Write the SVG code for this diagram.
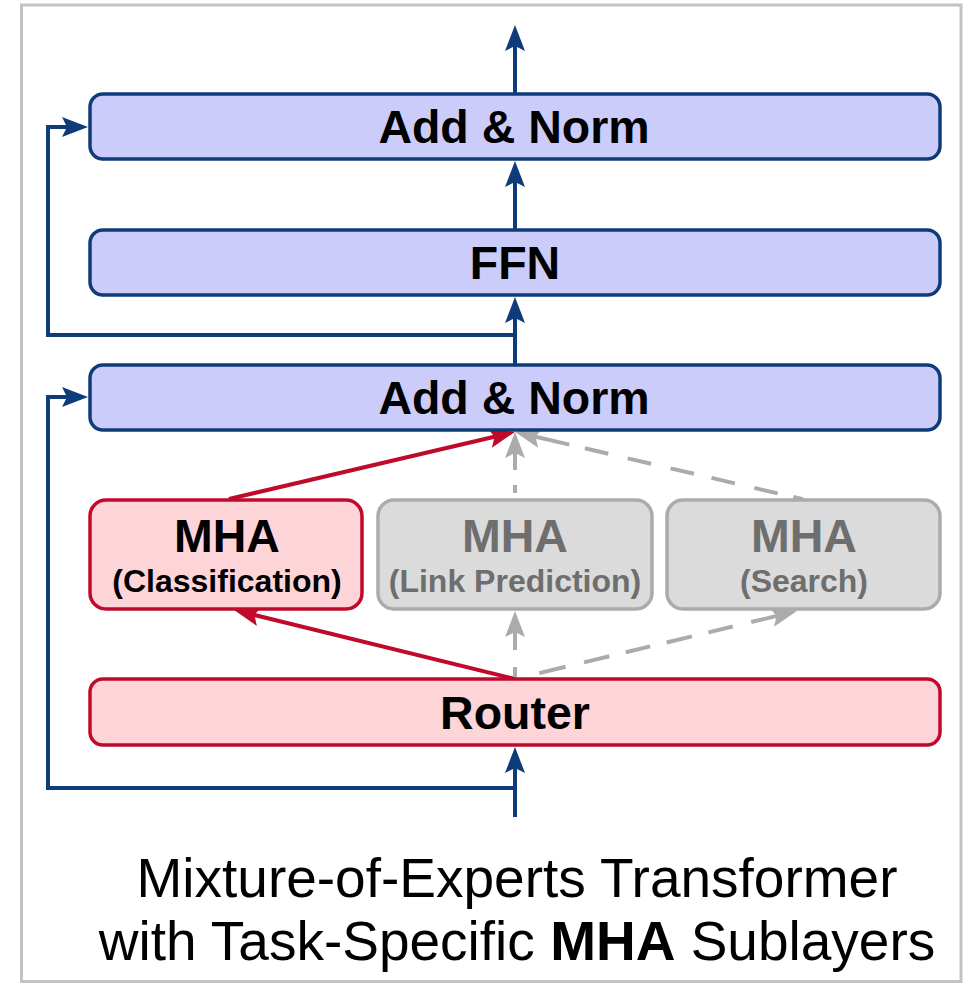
<svg xmlns="http://www.w3.org/2000/svg" width="969" height="986" viewBox="0 0 969 986">
  <style>
    .frame { fill: #ffffff; stroke: #c2c2c2; stroke-width: 3; }
    .box-blue { fill: #ccccfb; stroke: #0e3c7a; stroke-width: 3.5; }
    .box-red { fill: #fdd5d8; stroke: #c00a2b; stroke-width: 3.5; }
    .box-gray { fill: #dbdbdb; stroke: #ababab; stroke-width: 3.5; }
    .label { font-family: "Liberation Sans", Arial, Helvetica, sans-serif; font-weight: bold; text-anchor: middle; fill: #000000; }
    .big { font-size: 46.5px; }
    .sub { font-size: 32px; }
    .muted { fill: #6e6e6e; }
    .caption { font-family: "Liberation Sans", Arial, Helvetica, sans-serif; font-size: 55px; text-anchor: middle; fill: #000000; }
    .wire-blue { fill: none; stroke: #0e3c7a; stroke-width: 4; }
    .wire-red { fill: none; stroke: #c00a2b; stroke-width: 4; }
    .wire-gray { fill: none; stroke: #ababab; stroke-width: 4; }
  </style>
  <defs>
    <marker id="head-blue" markerUnits="userSpaceOnUse" markerWidth="40" markerHeight="40" refX="0" refY="0" orient="auto" overflow="visible">
      <path d="M8,0 L-18,-10 L-13,0 L-18,10 Z" fill="#0e3c7a"/>
    </marker>
    <marker id="head-red" markerUnits="userSpaceOnUse" markerWidth="40" markerHeight="40" refX="0" refY="0" orient="auto" overflow="visible">
      <path d="M8,0 L-18,-10 L-13,0 L-18,10 Z" fill="#c00a2b"/>
    </marker>
    <marker id="head-gray" markerUnits="userSpaceOnUse" markerWidth="40" markerHeight="40" refX="0" refY="0" orient="auto" overflow="visible">
      <path d="M8,0 L-18,-10 L-13,0 L-18,10 Z" fill="#ababab"/>
    </marker>
  </defs>

  <rect width="969" height="986" fill="#ffffff"/>
  <rect class="frame" x="21.5" y="5" width="939.5" height="976.5"/>

  <!-- connectors -->
  <g id="connectors">
    <!-- main stream (blue) -->
    <path class="wire-blue" d="M515,94 V33" marker-end="url(#head-blue)"/>
    <path class="wire-blue" d="M515,230 V169" marker-end="url(#head-blue)"/>
    <path class="wire-blue" d="M515,365 V305" marker-end="url(#head-blue)"/>
    <path class="wire-blue" d="M515,817 V755" marker-end="url(#head-blue)"/>
    <!-- residual skips -->
    <path class="wire-blue" d="M515,335 H48 V127 H80" marker-end="url(#head-blue)"/>
    <path class="wire-blue" d="M515,788 H48 V397 H80" marker-end="url(#head-blue)"/>
    <!-- active route (red) -->
    <path class="wire-red" d="M515,679 L241.8,611.9" marker-end="url(#head-red)"/>
    <path class="wire-red" d="M229,499 L507.2,433.8" marker-end="url(#head-red)"/>
    <!-- inactive routes (gray dashed) -->
    <path class="wire-gray" d="M515,677 V667 M515,650 V619" marker-end="url(#head-gray)"/>
    <path class="wire-gray" d="M515,679 L789.2,612.9" stroke-dasharray="0 25 27 19 26 17 25 17 26 17 25 19 60 100" marker-end="url(#head-gray)"/>
    <path class="wire-gray" d="M515,493 V485 M515,470 V440" marker-end="url(#head-gray)"/>
    <path class="wire-gray" d="M803,499.3 L522.8,433.8" stroke-dasharray="10 16 24 20 24 18 24 20 24 20 24 16 60 100" marker-end="url(#head-gray)"/>
  </g>

  <g id="add-norm-top">
    <rect class="box-blue" x="90" y="94" width="850" height="65" rx="13"/>
    <text class="label big" x="514" y="143">Add &amp; Norm</text>
  </g>

  <g id="ffn">
    <rect class="box-blue" x="90" y="230" width="850" height="65" rx="13"/>
    <text class="label big" x="515" y="279">FFN</text>
  </g>

  <g id="add-norm-bottom">
    <rect class="box-blue" x="90" y="365" width="850" height="65" rx="13"/>
    <text class="label big" x="514" y="414">Add &amp; Norm</text>
  </g>

  <g id="mha-classification">
    <rect class="box-red" x="90" y="500" width="272" height="109" rx="16"/>
    <text class="label big" x="227" y="552">MHA</text>
    <text class="label sub" x="227" y="592">(Classification)</text>
  </g>

  <g id="mha-link-prediction">
    <rect class="box-gray" x="378" y="500" width="274" height="109" rx="16"/>
    <text class="label big muted" x="515" y="552">MHA</text>
    <text class="label sub muted" x="515" y="592">(Link Prediction)</text>
  </g>

  <g id="mha-search">
    <rect class="box-gray" x="667" y="500" width="273" height="109" rx="16"/>
    <text class="label big muted" x="804" y="552">MHA</text>
    <text class="label sub muted" x="804" y="592">(Search)</text>
  </g>

  <g id="router">
    <rect class="box-red" x="90" y="679" width="850" height="66" rx="13"/>
    <text class="label big" x="515" y="728.5">Router</text>
  </g>

  <g id="caption">
    <text class="caption" x="517" y="897">Mixture-of-Experts Transformer</text>
    <text class="caption" x="517" y="960">with Task-Specific <tspan font-weight="bold">MHA</tspan> Sublayers</text>
  </g>
</svg>
